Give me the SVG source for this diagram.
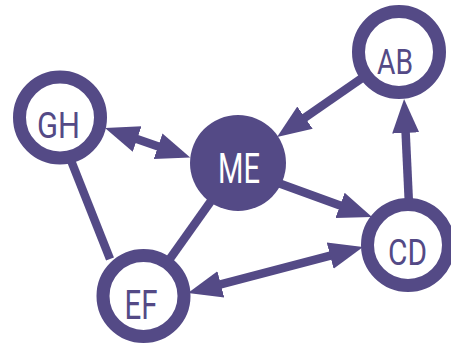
<svg xmlns="http://www.w3.org/2000/svg" width="451" height="344" viewBox="0 0 451 344">
<style>
.edge{stroke:#544a86;stroke-width:8.5;fill:none}
.ring{fill:#fff;stroke:#544a86;stroke-width:13}
.solid{fill:#544a86}
.lbl{font-family:Roboto,"Liberation Sans",sans-serif;fill:#544a86;text-anchor:middle}
.lblw{font-family:Roboto,"Liberation Sans",sans-serif;fill:#fff;text-anchor:middle}
</style>
<defs>
<marker id="ah" markerUnits="userSpaceOnUse" viewBox="0 0 35 30" markerWidth="35" markerHeight="30" refX="14" refY="15" orient="auto-start-reverse">
<path d="M0,1.5 L34,15 L0,28.5 z" fill="#544a86"/>
</marker>
</defs>
<g id="connectors">
<line class="edge" x1="123.9" y1="134.5" x2="171.3" y2="150.9" marker-start="url(#ah)" marker-end="url(#ah)"/>
<line class="edge" x1="365" y1="76" x2="293.5" y2="125.6" marker-end="url(#ah)"/>
<line class="edge" x1="270" y1="180" x2="353.2" y2="210.2" marker-end="url(#ah)"/>
<line class="edge" x1="409" y1="205" x2="405" y2="119" marker-end="url(#ah)"/>
<line class="edge" x1="207.3" y1="287.9" x2="343.7" y2="252.1" marker-start="url(#ah)" marker-end="url(#ah)"/>
<line class="edge" x1="70" y1="158" x2="110" y2="259"/>
<line class="edge" x1="238" y1="163" x2="143.5" y2="296"/>
</g>
<g id="GH">
<circle class="ring" cx="60" cy="117.5" r="40.5"/>
<text class="lbl" x="58.5" y="138" font-size="37" textLength="43" lengthAdjust="spacingAndGlyphs">GH</text>
</g>
<g id="ME">
<circle class="solid" cx="238" cy="163" r="48"/>
<text class="lblw" x="239" y="183" font-size="42" textLength="42" lengthAdjust="spacingAndGlyphs">ME</text>
</g>
<g id="AB">
<circle class="ring" cx="399" cy="52" r="40.5"/>
<text class="lbl" x="395" y="74" font-size="35" textLength="36" lengthAdjust="spacingAndGlyphs">AB</text>
</g>
<g id="CD">
<circle class="ring" cx="408" cy="245" r="40.5"/>
<text class="lbl" x="407.5" y="265" font-size="36" textLength="39" lengthAdjust="spacingAndGlyphs">CD</text>
</g>
<g id="EF">
<circle class="ring" cx="143.5" cy="296" r="40.5"/>
<text class="lbl" x="141" y="319" font-size="41" textLength="33" lengthAdjust="spacingAndGlyphs">EF</text>
</g>
</svg>
